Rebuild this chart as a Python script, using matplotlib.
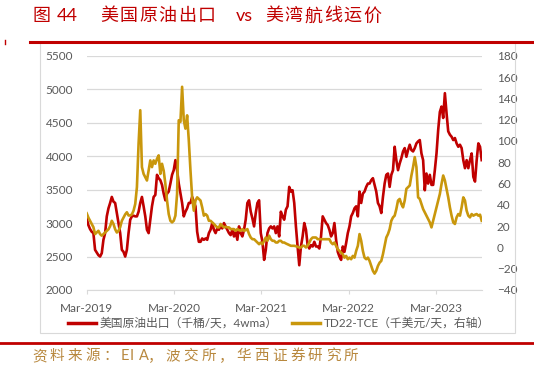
import matplotlib
matplotlib.use("Agg")
import matplotlib.pyplot as plt
import pandas as pd
from matplotlib.lines import Line2D
from matplotlib.patches import Rectangle

RED = "#c00000"
GOLD = "#c9970c"
GREY = "#595959"
GRID = "#d9d9d9"
SRC = "#b8883e"

# weekly series, first week = Mar-2019
START = "2019-03-01"

# US crude exports, kb/d, 4wma (left axis)
exports = [
    3070, 2970, 2910, 2870, 2850, 2600, 2560, 2520, 2500, 2550,
    2750, 2850, 3100, 3220, 3300, 3390, 3320, 3300, 3150, 3000,
    2850, 2600, 2570, 2500, 2600, 2850, 3050, 3100, 3110, 3100,
    3100, 3170, 3300, 3390, 3250, 3100, 2900, 2850, 3050, 3250,
    3390, 3420, 3720, 3670, 3640, 3570, 3440, 3340, 3440, 3470,
    3590, 3720, 3790, 3940, 3790, 3590, 3440, 3300, 3100, 3170,
    3220, 3300, 3300, 3390, 3320, 3250, 2870, 2720, 2720, 2770,
    2750, 2770, 2750, 2850, 2900, 3000, 2900, 2850, 2920, 2900,
    2950, 2920, 3000, 2950, 2900, 2850, 2820, 2900, 2800, 2870,
    2750, 2950, 2850, 2800, 2900, 3050, 3300, 3340, 3170, 3070,
    2950, 3150, 3300, 3340,
    2850, 2720, 2450, 2600, 2850, 2920, 2950, 2920, 2950, 2850,
    2950, 2800, 3170, 3100, 3050, 3200, 3250, 3540, 3470, 3490,
    3300, 2950, 2650, 2370, 2650, 2800, 3000, 2900, 2670, 2620,
    2670, 2650, 2720, 2650, 2650, 2620, 2800, 3100, 3050, 3000,
    2970, 2900, 2800, 2850, 3000, 2750, 2570, 2500, 2450, 2650,
    2570, 2700, 2850, 2950, 3100, 3150, 3220, 3250, 3100, 3470,
    3300, 3440, 3470, 3540, 3590, 3590, 3640, 3670, 3570, 3470,
    3300, 3250, 3150, 3390, 3590, 3720, 3740, 3540, 3720, 3790,
    4140, 3940, 3790, 3890, 3970, 4070, 4120, 3990, 4090, 4170,
    4090, 4070, 4120, 4190, 4220, 4240, 4040, 3940, 3490, 3740,
    3590, 3720, 3570, 3570, 3790, 4040, 4390, 4660, 4740, 4570,
    4940, 4640, 4370, 4320, 4290, 4240, 4270, 4190, 4140, 4170,
    4120, 3940, 3820, 3940, 3820, 3940, 4040, 3690, 3620, 3940,
    4190, 4140, 3940,
]

# TD22 TCE, k$/day (right axis)
td22 = [
    32, 28, 25, 22, 19, 12.5, 14, 15.6, 12.5, 11,
    12.5, 14, 15.6, 17, 20, 25, 22, 17, 14, 15.6,
    19, 25, 28, 31, 33, 30, 30, 31, 34.5, 40.8,
    56.5, 97.4, 128.8, 75.4, 69, 66, 62.8, 72, 81.7, 75.4,
    81.7, 78.5, 83.2, 86.4, 69, 78.5, 72, 59.6, 44, 31.3,
    25, 23.5, 25, 29.8, 50.2, 119.4, 117.8, 150.8, 119.4, 111.5,
    124, 100.5, 72.2, 47, 34.5, 44, 47, 45.5, 44, 37.6,
    29.8, 31.3, 29.8, 25, 25, 23.5, 22, 20.3, 18.8, 18.8,
    22, 20.3, 18.8, 19.4, 18.8, 18.8, 17.2, 17.2, 17.2, 15.6,
    17.2, 16.2, 15.6, 17.2, 15.6, 16.2, 17.2, 12.5, 9.3, 7.7,
    7.7, 6.2, 4.6, 3,
    4.6, 3, 6.2, 9.3, 6.2, 11, 7.7, 6.2, 6.2, 4.6,
    4.6, 6.2, 6.2, 4.6, 4.6, 3.7, 3, 2.4, 1.5, 1.5,
    1.5, 1.1, 0.5, -0.1, -0.1, 1.5, 1.5, -0.1, 1.5, 4.6,
    7.7, 9.3, 9.3, 9.3, 7.7, 7.7, 7.7, 7.7, 7.7, 7.7,
    7.7, 7.7, 4.6, 3, 4.6, 1.5, -1.7, -3.3, -4.8, -6.4,
    -9.6, -8, -11.1, -9.6, -11.1, -8, -9.6, -3.3, 1.5, 12.5,
    6.2, -3.3, -9.6, -11.1, -9.6, -12.7, -17.4, -22, -24.6, -22,
    -17.4, -14.3, -12.7, -6.4, 1.5, 9.3, 12.5, 17.2, 25, 28.2,
    29.8, 36, 44, 45.5, 40.8, 37.6, 44, 55, 56.5, 58.1,
    67.5, 75.4, 84.8, 75.4, 47, 45.5, 40.8, 36, 32.9, 29.8,
    26.6, 23.5, 18.8, 25, 31.3, 37.6, 44, 50.2, 59.6, 67.5,
    62.8, 55, 47, 37.6, 29.8, 23.5, 22, 28.2, 31.3, 29.8,
    37.6, 47, 44, 34.5, 29.8, 28.2, 31.3, 29.8, 30.7, 31.3,
    29.8, 30.7, 25,
]

tick_dates = ["2019-03-01", "2020-03-01", "2021-03-01", "2022-03-01", "2023-03-01"]
tick_labels = ["Mar-2019", "Mar-2020", "Mar-2021", "Mar-2022", "Mar-2023"]
left_ticks = [2000, 2500, 3000, 3500, 4000, 4500, 5000, 5500]
right_ticks = list(range(-40, 181, 20))

label_exports = "美国原油出口（千桶/天，4wma）"
label_td22 = "TD22-TCE（千美元/天，右轴）"

plt.rcParams["font.family"] = ["Lato", "Noto Sans CJK SC", "DejaVu Sans"]

W, H = 534, 371
fig = plt.figure(figsize=(W / 100, H / 100), dpi=100)
fig.patch.set_facecolor("white")


def spaced(x, y, s, pitch, **kw):
    # report style: characters laid out on a fixed pitch (half pitch for ASCII)
    for ch in s:
        fig.text(x / W, 1 - y / H, ch, va="center", ha="left", **kw)
        x += pitch if ord(ch) > 255 else pitch / 2


ax = fig.add_axes([86.7 / W, 1 - 290 / H, 395 / W, 234.3 / H])
ax2 = ax.twinx()

dates = pd.date_range(START, periods=len(exports), freq="7D")
ax.plot(dates, exports, color=RED, lw=1.9, solid_joinstyle="round")
ax2.plot(dates, td22, color=GOLD, lw=1.9, solid_joinstyle="round")

ax.set_ylim(left_ticks[0], left_ticks[-1])
ax.set_yticks(left_ticks)
ax2.set_ylim(right_ticks[0], right_ticks[-1])
ax2.set_yticks(right_ticks)
ax.set_xlim(dates[0], dates[-1])
ax.set_xticks(pd.to_datetime(tick_dates))
ax.set_xticklabels(tick_labels)

ax.grid(axis="y", color=GRID, lw=0.9)
ax.set_axisbelow(True)
for s in ["top", "right", "left"]:
    ax.spines[s].set_visible(False)
ax.spines["bottom"].set_color(GRID)
for s in ax2.spines.values():
    s.set_visible(False)

ax.tick_params(axis="y", length=0, pad=10, labelcolor=GREY, labelsize=8.5)
ax2.tick_params(axis="y", length=0, pad=11, labelcolor=GREY, labelsize=8.5)
ax.tick_params(axis="x", length=3, color=GRID, pad=6, labelcolor=GREY, labelsize=8.5)

# chart frame + report decorations
fig.add_artist(Rectangle((40 / W, 1 - 333 / H), 475 / W, 291 / H,
                         transform=fig.transFigure, fill=False, ec=GRID, lw=0.8))
fig.add_artist(Line2D([30 / W, 1], [1 - 41.5 / H] * 2, color=RED, lw=2.2))
fig.add_artist(Line2D([5.5 / W] * 2, [1 - 39.5 / H, 1 - 44 / H], color=RED, lw=1))
fig.add_artist(Line2D([0, 1], [1 - 343 / H] * 2, color=RED, lw=2))

fig.text(33 / W, 1 - 16 / H, "图", color=RED, fontsize=13, va="center")
fig.text(57 / W, 1 - 16 / H, "44", color=RED, fontsize=13, va="center")
spaced(100, 16, "美国原油出口", 19.5, color=RED, fontsize=13)
fig.text(236 / W, 1 - 16 / H, "vs", color=RED, fontsize=13, va="center")
spaced(265, 16, "美湾航线运价", 19.7, color=RED, fontsize=13)
spaced(32, 356, "资料来源：EIA，波交所，华西证券研究所", 17.8, color=SRC, fontsize=10.5)

handles = [Line2D([0], [0], color=RED, lw=2.5), Line2D([0], [0], color=GOLD, lw=2.5)]
fig.legend(handles, [label_exports, label_td22], loc="center",
           bbox_to_anchor=(279 / W, 1 - 323 / H), ncol=2, frameon=False,
           fontsize=8.5, handlelength=2.4, handletextpad=0.3,
           columnspacing=1.2, labelcolor=GREY)

fig.savefig("out.png", dpi=100)
